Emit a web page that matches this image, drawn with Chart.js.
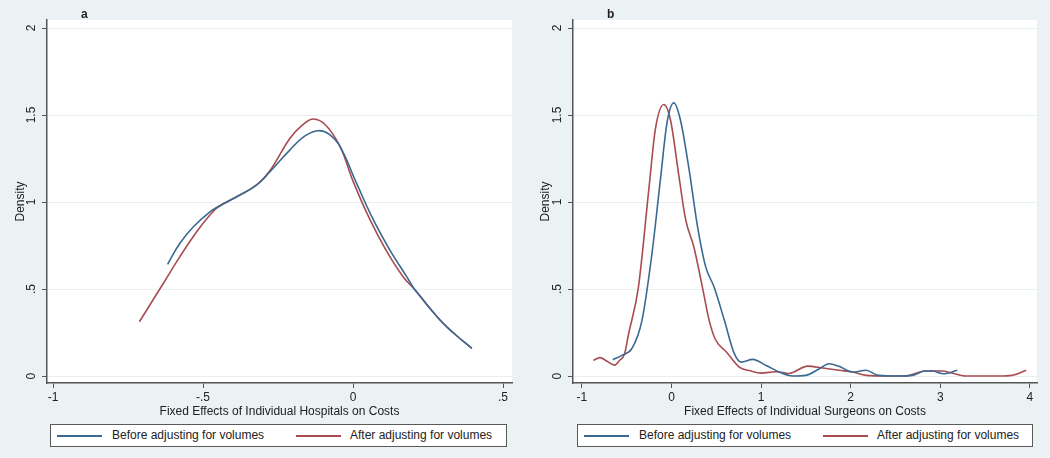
<!DOCTYPE html>
<html>
<head>
<meta charset="utf-8">
<script src="https://cdn.jsdelivr.net/npm/chart.js@4.4.1/dist/chart.umd.min.js"></script>
<style>
html,body{margin:0;padding:0;background:#eaf2f3;}
body{width:1050px;height:458px;position:relative;overflow:hidden;font-family:"Liberation Sans",Arial,sans-serif;}
.panel{position:absolute;top:0;width:525px;height:458px;}
.panel canvas{position:absolute;left:0;top:0;}
.leg{position:absolute;top:424px;height:23px;background:#fff;border:1px solid #5a5a5a;box-sizing:border-box;font-size:12px;color:#222;}
.leg .sw{position:absolute;top:10px;height:2px;width:45px;}
.leg .tx{position:absolute;top:3px;line-height:14px;white-space:nowrap;}
</style>
</head>
<body>
<div class="panel" id="pa" style="left:0"><canvas id="ch-a" width="525" height="458"></canvas></div>
<div class="panel" id="pb" style="left:525px"><canvas id="ch-b" width="525" height="458"></canvas></div>
<script>
// ===================== DATOS =====================
const seriesNames=['Before adjusting for volumes','After adjusting for volumes'];
const seriesColors=['#3a6992','#a84c52'];

// panel a — hospitales
const aBeforeX=[-0.618,-0.577,-0.532,-0.477,-0.449,-0.377,-0.321,-0.277,-0.21,-0.16,-0.116,-0.08,-0.043,0.012,0.068,0.123,0.179,0.207,0.29,0.34,0.396];
const aBeforeY=[0.642,0.763,0.858,0.944,0.973,1.04,1.098,1.174,1.30,1.38,1.41,1.39,1.318,1.107,0.897,0.724,0.571,0.494,0.322,0.24,0.159];
const aAfterX=[-0.712,-0.632,-0.577,-0.521,-0.477,-0.449,-0.377,-0.321,-0.277,-0.21,-0.17,-0.132,-0.09,-0.043,0.0,0.057,0.11,0.167,0.207,0.29,0.34,0.396];
const aAfterY=[0.312,0.533,0.686,0.829,0.925,0.973,1.04,1.098,1.18,1.366,1.44,1.477,1.44,1.318,1.12,0.897,0.724,0.571,0.494,0.322,0.24,0.159];

// panel b — cirujanos
const bBeforeX=[-0.656,-0.55,-0.44,-0.33,-0.217,-0.124,-0.049,0.026,0.10,0.195,0.29,0.38,0.476,0.59,0.70,0.778,0.907,1.056,1.20,1.35,1.50,1.65,1.76,1.87,2.02,2.17,2.31,2.54,2.69,2.83,2.91,3.04,3.19];
const bBeforeY=[0.094,0.12,0.16,0.32,0.71,1.13,1.46,1.57,1.47,1.19,0.86,0.63,0.51,0.32,0.13,0.08,0.096,0.061,0.023,0.0,0.004,0.042,0.071,0.056,0.023,0.033,0.004,0.0,0.004,0.029,0.029,0.013,0.033];
const bAfterX=[-0.873,-0.80,-0.72,-0.637,-0.58,-0.525,-0.48,-0.37,-0.25,-0.18,-0.086,-0.011,0.082,0.157,0.25,0.345,0.42,0.49,0.61,0.76,0.88,1.0,1.17,1.31,1.52,1.69,1.87,2.02,2.17,2.39,2.61,2.83,3.02,3.13,3.28,3.65,3.80,3.96];
const bAfterY=[0.09,0.106,0.085,0.063,0.09,0.126,0.24,0.51,1.09,1.42,1.56,1.47,1.15,0.90,0.74,0.51,0.32,0.21,0.14,0.05,0.03,0.017,0.025,0.015,0.057,0.046,0.033,0.023,0.004,0.0,0.0,0.029,0.029,0.017,0.0,0.0,0.004,0.033];

// ejes
const yTicks=[0,0.5,1,1.5,2];
const yTickLabels=['0','.5','1','1.5','2'];
const aXTicks=[-1,-0.5,0,0.5];
const aXTickLabels=['-1','-.5','0','.5'];
const bXTicks=[-1,0,1,2,3,4];
const bXTickLabels=['-1','0','1','2','3','4'];

// ===================== GRAFICOS =====================
Chart.defaults.font.family='"Liberation Sans",Arial,sans-serif';
Chart.defaults.font.size=12;
Chart.defaults.color='#222';

const pts=(xs,ys)=>xs.map((x,i)=>({x,y:ys[i]}));

const plotBg={id:'plotBg',beforeDraw(c){
  const a=c.chartArea,ctx=c.ctx;
  ctx.save();ctx.fillStyle='#ffffff';ctx.fillRect(a.left,a.top,a.right-a.left,a.bottom-a.top);ctx.restore();
}};
const panelTag={id:'panelTag',afterDraw(c,args,o){
  const ctx=c.ctx;
  ctx.save();ctx.fillStyle='#222';ctx.font='bold 12px "Liberation Sans",Arial,sans-serif';
  ctx.textBaseline='middle';ctx.fillText(o.text,c.chartArea.left+o.dx,15);ctx.restore();
}};

function makePanel(id,tag,yW,xMin,xMax,xTicks,xLabels,xTitle,series,smooth){
  return new Chart(document.getElementById(id),{
    type:'line',
    data:{datasets:series.map((s,i)=>({
      label:seriesNames[i],data:pts(s[0],s[1]),
      borderColor:seriesColors[i],borderWidth:1.6,pointRadius:0,fill:false,
      ...smooth
    }))},
    options:{
      responsive:false,animation:false,
      layout:{padding:{left:0,top:20,right:13,bottom:35}},
      plugins:{legend:{display:false},tooltip:{enabled:false},panelTag:{text:tag,dx:34}},
      scales:{
        x:{type:'linear',min:xMin,max:xMax,
          afterBuildTicks:s=>{s.ticks=xTicks.map(v=>({value:v}));},
          afterFit:s=>{s.height=40;},
          ticks:{padding:2,maxRotation:0,callback:v=>xLabels[xTicks.indexOf(v)]},
          grid:{drawOnChartArea:false,tickLength:5,tickColor:'#555',tickWidth:1},
          border:{display:true,color:'#555',width:1.5},
          title:{display:true,text:xTitle,padding:{top:0,bottom:4}}},
        y:{type:'linear',min:-0.04,max:2.046,
          afterBuildTicks:s=>{s.ticks=yTicks.map(v=>({value:v}));},
          afterFit:s=>{s.width=yW;},
          ticks:{minRotation:90,maxRotation:90,crossAlign:'center',padding:2,callback:v=>yTickLabels[yTicks.indexOf(v)]},
          grid:{color:'#e9eff1',lineWidth:1,tickLength:5,tickColor:'#555',tickWidth:1},
          border:{display:true,color:'#555',width:1.5},
          title:{display:true,text:'Density',padding:{top:13,bottom:0}}}
      }
    },
    plugins:[plotBg,panelTag]
  });
}

makePanel('ch-a','a',47,-1.02,0.53,aXTicks,aXTickLabels,'Fixed Effects of Individual Hospitals on Costs',
  [[aBeforeX,aBeforeY],[aAfterX,aAfterY]],{tension:0.4});
makePanel('ch-b','b',48,-1.10,4.08,bXTicks,bXTickLabels,'Fixed Effects of Individual Surgeons on Costs',
  [[bBeforeX,bBeforeY],[bAfterX,bAfterY]],{cubicInterpolationMode:'monotone'});

// leyendas (recuadro bajo cada panel)
function legend(panelId,left,width){
  const box=document.createElement('div');
  box.className='leg';box.style.left=left+'px';box.style.width=width+'px';
  const offs=[[6,61],[245,299]];
  seriesNames.forEach((n,i)=>{
    box.innerHTML+=`<span class="sw" style="left:${offs[i][0]}px;background:${seriesColors[i]}"></span><span class="tx" style="left:${offs[i][1]}px">${n}</span>`;
  });
  document.getElementById(panelId).appendChild(box);
}
legend('pa',50,457);
legend('pb',52,456);
</script>
</body>
</html>
